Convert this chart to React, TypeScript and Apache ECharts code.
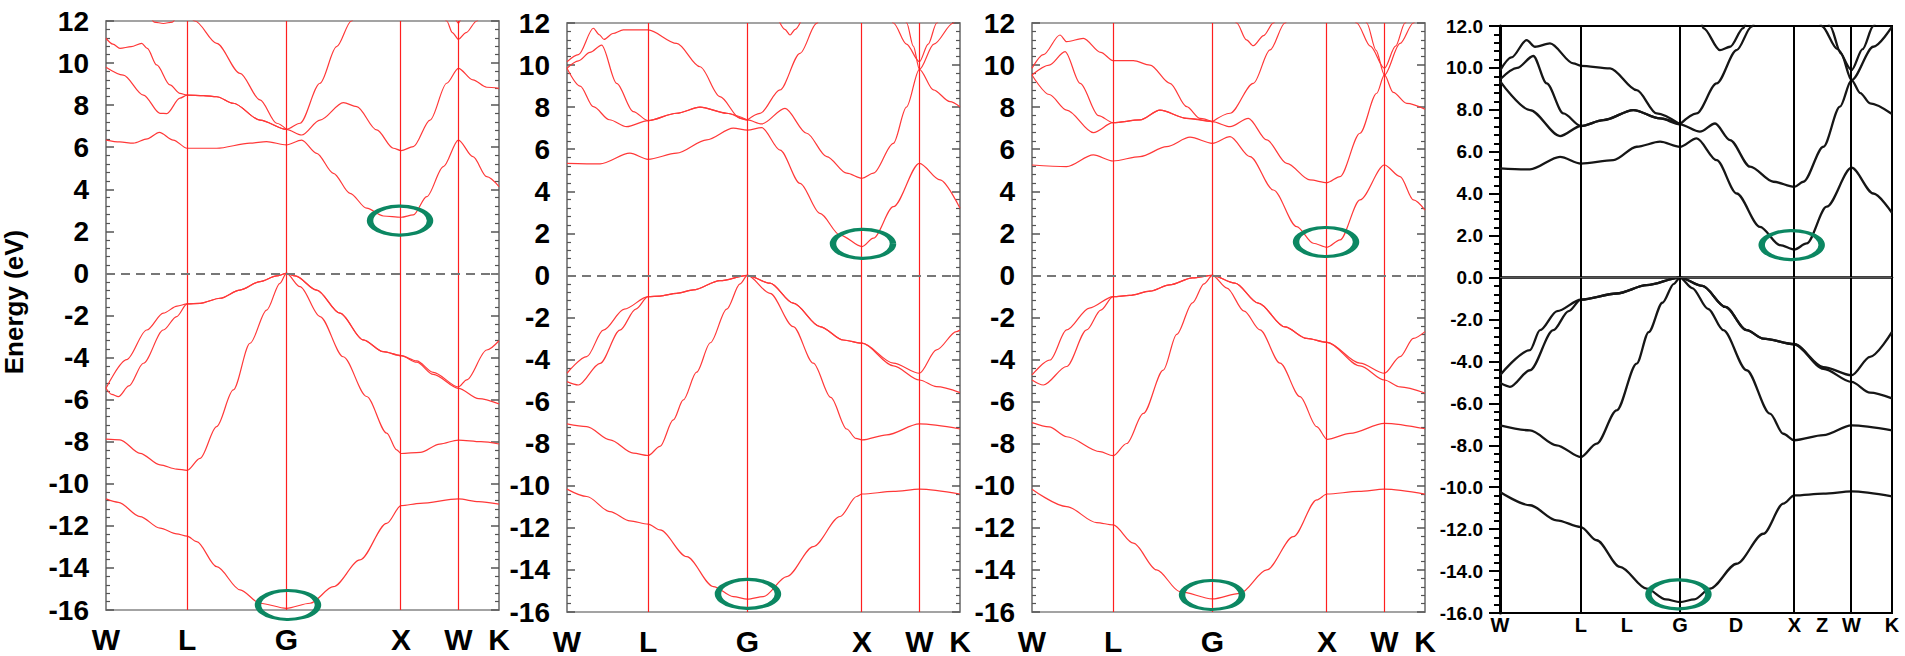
import React, { useEffect, useRef } from 'react';
import * as echarts from 'echarts';

type Pt = [number, number];

// ---------- k-path (path length units) ----------
const kSym = [0, 0.707, 1.573, 2.573, 3.073, 3.427];
const kSymLabels = ['W', 'L', 'G', 'X', 'W', 'K'];
const refLabelPos = [0, 0.707, 1.11, 1.573, 2.063, 2.573, 2.815, 3.073, 3.427];
const refLabels = ['W', 'L', 'L', 'G', 'D', 'X', 'Z', 'W', 'K'];
const eMin = -16;
const eMax = 12;
const eStep = 2;

// ---------- Panel 1 ----------
const p1Band1: Pt[] = [[0,-10.72],[0.108,-10.88],[0.297,-11.56],[0.471,-12.11],[0.616,-12.38],[0.707,-12.49],[0.791,-12.75],[0.965,-13.94],[1.169,-15.04],[1.343,-15.68],[1.573,-15.92],[1.779,-15.68],[1.983,-14.89],[2.215,-13.62],[2.448,-11.88],[2.573,-11.04],[2.74,-10.93],[3.073,-10.72],[3.25,-10.85],[3.427,-10.97]];
const p1Band2: Pt[] = [[0,-7.88],[0.122,-7.91],[0.297,-8.55],[0.471,-9.1],[0.616,-9.3],[0.707,-9.36],[0.82,-8.79],[0.965,-7.28],[1.11,-5.54],[1.256,-3.32],[1.401,-1.74],[1.517,-0.47],[1.573,0],[1.692,-0.63],[1.866,-2.05],[2.069,-3.96],[2.273,-5.85],[2.448,-7.59],[2.535,-8.39],[2.573,-8.56],[2.74,-8.51],[2.91,-8.11],[3.073,-7.92],[3.27,-8.0],[3.427,-8.11]];
const p1Band3: Pt[] = [[0,-5.46],[0.05,-5.75],[0.108,-5.86],[0.2,-5.35],[0.326,-4.27],[0.5,-2.69],[0.616,-2.05],[0.707,-1.45],[0.82,-1.42],[0.994,-1.18],[1.168,-0.79],[1.343,-0.39],[1.488,-0.12],[1.573,0],[1.65,-0.12],[1.837,-0.79],[2.04,-1.89],[2.243,-3.16],[2.417,-3.72],[2.573,-3.91],[2.709,-4.22],[2.854,-4.8],[3.073,-5.46],[3.25,-5.95],[3.427,-6.2]];
const p1Band4: Pt[] = [[0,-5.46],[0.18,-4.1],[0.355,-2.69],[0.5,-1.89],[0.62,-1.55],[0.707,-1.45],[0.82,-1.42],[0.994,-1.18],[1.168,-0.79],[1.343,-0.39],[1.488,-0.12],[1.573,0],[1.65,-0.12],[1.837,-0.79],[2.04,-1.89],[2.243,-3.16],[2.417,-3.72],[2.573,-3.91],[2.709,-4.16],[2.854,-4.7],[3.073,-5.4],[3.145,-5.06],[3.32,-3.64],[3.427,-3.2]];
const p1Band5: Pt[] = [[0,6.34],[0.12,6.25],[0.238,6.19],[0.36,6.4],[0.465,6.71],[0.587,6.34],[0.707,5.95],[0.965,5.95],[1.256,6.19],[1.4,6.27],[1.573,6.11],[1.706,6.34],[1.837,5.71],[1.983,4.76],[2.128,3.81],[2.273,3.1],[2.419,2.73],[2.573,2.67],[2.68,2.78],[2.797,3.65],[2.942,5.08],[3.073,6.34],[3.2,5.55],[3.32,4.6],[3.427,4.13]];
const p1Band6: Pt[] = [[0,11.18],[0.06,10.9],[0.122,10.7],[0.22,10.78],[0.311,10.94],[0.36,10.7],[0.442,9.91],[0.558,8.96],[0.645,8.56],[0.707,8.48],[0.85,8.45],[0.965,8.4],[1.11,8.09],[1.343,7.29],[1.573,6.85],[1.706,6.58],[1.866,7.29],[2.07,8.12],[2.186,7.93],[2.36,6.82],[2.506,5.95],[2.573,5.84],[2.68,6.03],[2.826,7.29],[2.971,9.04],[3.073,9.75],[3.2,9.2],[3.32,8.85],[3.427,8.8]];
const p1Band7: Pt[] = [[0,9.8],[0.151,9.43],[0.326,8.48],[0.471,7.61],[0.53,7.6],[0.645,8.33],[0.707,8.48],[0.85,8.45],[0.965,8.4],[1.11,8.09],[1.343,7.29],[1.573,6.85],[1.692,7.14],[1.866,9.04],[2.011,10.78],[2.14,12.0],[2.2,12.8]];
const p1Band8: Pt[] = [[0.72,12.3],[0.776,12.0],[0.965,10.94],[1.169,9.51],[1.343,8.25],[1.488,7.14],[1.573,6.85]];
const p1Band9: Pt[] = [[0.39,12.2],[0.42,11.95],[0.5,11.88],[0.58,11.95],[0.61,12.2]];
const p1Band10: Pt[] = [[2.94,12.3],[2.971,12.0],[3.02,11.45],[3.073,11.13],[3.14,11.45],[3.233,12.0],[3.26,12.3]];
const p1Band11: Pt[] = [[3.04,12.2],[3.073,11.9],[3.1,12.2]];
const p1Marks: Pt[] = [[2.564, 2.51], [1.587, -15.76]];

// ---------- Panel 2 ----------
const p2Band1: Pt[] = [[0,-10.16],[0.172,-10.51],[0.375,-11.23],[0.549,-11.67],[0.707,-11.82],[0.811,-12.1],[1.044,-13.37],[1.276,-14.79],[1.45,-15.27],[1.573,-15.39],[1.712,-15.27],[1.916,-14.32],[2.148,-12.89],[2.381,-11.46],[2.526,-10.51],[2.573,-10.39],[2.846,-10.27],[3.073,-10.16],[3.427,-10.39]];
const p2Band2: Pt[] = [[0,-7.06],[0.172,-7.19],[0.375,-7.82],[0.578,-8.45],[0.707,-8.56],[0.811,-8.13],[0.927,-6.87],[1.014,-5.92],[1.13,-4.6],[1.25,-3.2],[1.393,-1.6],[1.509,-0.4],[1.573,0],[1.77,-0.85],[1.973,-2.43],[2.148,-4.17],[2.3,-5.8],[2.439,-7.3],[2.52,-7.75],[2.573,-7.82],[2.788,-7.58],[3.073,-7.06],[3.427,-7.3]];
const p2Band3: Pt[] = [[0,-5.05],[0.099,-5.21],[0.288,-4.18],[0.462,-2.6],[0.6,-1.6],[0.707,-1.01],[0.811,-0.98],[0.956,-0.85],[1.102,-0.69],[1.334,-0.25],[1.573,0],[1.77,-0.37],[1.973,-1.32],[2.206,-2.43],[2.409,-3.07],[2.573,-3.22],[2.846,-4.3],[3.073,-4.97],[3.222,-5.29],[3.427,-5.57]];
const p2Band4: Pt[] = [[0,-4.65],[0.172,-3.86],[0.317,-2.6],[0.5,-1.6],[0.707,-1.01],[0.811,-0.98],[0.956,-0.85],[1.102,-0.69],[1.334,-0.25],[1.573,0],[1.77,-0.37],[1.973,-1.32],[2.206,-2.43],[2.409,-3.07],[2.573,-3.22],[2.846,-4.17],[3.073,-4.65],[3.222,-3.54],[3.396,-2.67],[3.427,-2.6]];
const p2Band5: Pt[] = [[0,5.33],[0.288,5.3],[0.549,5.81],[0.707,5.52],[0.956,5.81],[1.218,6.44],[1.45,7.0],[1.573,6.91],[1.698,7.03],[1.858,5.96],[2.032,4.38],[2.206,2.95],[2.381,1.92],[2.573,1.37],[2.672,1.77],[2.846,3.27],[3.073,5.33],[3.253,4.54],[3.427,3.19]];
const p2Band6: Pt[] = [[0,10.16],[0.1,10.5],[0.23,11.75],[0.28,11.45],[0.323,11.22],[0.4,11.5],[0.491,11.67],[0.707,11.67],[0.956,11.03],[1.16,9.92],[1.334,8.5],[1.509,7.47],[1.573,7.39]];
const p2Band7: Pt[] = [[0,9.85],[0.1,10.2],[0.2,10.6],[0.302,10.95],[0.433,9.13],[0.578,7.79],[0.707,7.36],[0.956,7.71],[1.16,8.0],[1.392,7.71],[1.573,7.39],[1.698,7.2],[1.901,7.94],[2.09,6.76],[2.265,5.65],[2.439,4.86],[2.573,4.62],[2.672,4.86],[2.846,6.28],[2.96,8.0],[3.073,9.8],[3.2,11.0],[3.369,12.0],[3.4,12.4]];
const p2Band8: Pt[] = [[0,9.85],[0.115,9.0],[0.23,8.02],[0.37,7.4],[0.52,7.07],[0.707,7.36],[0.956,7.71],[1.16,8.0],[1.392,7.71],[1.573,7.39]];
const p2Band9: Pt[] = [[1.573,7.39],[1.683,7.7],[1.857,8.82],[2.032,10.56],[2.177,11.98],[2.22,12.5]];
const p2Band10: Pt[] = [[1.84,12.2],[1.9,11.7],[1.945,11.43],[1.99,11.7],[2.05,12.2]];
const p2Band11: Pt[] = [[2.82,12.3],[2.846,12.0],[2.96,11.0],[3.073,10.16],[3.15,11.0],[3.224,12.0],[3.25,12.3]];
const p2Band12: Pt[] = [[2.94,12.4],[2.962,12.0],[3.02,10.9],[3.073,9.8],[3.195,8.82],[3.34,8.26],[3.427,8.02]];
const p2Marks: Pt[] = [[2.581, 1.5], [1.578, -15.14]];

// ---------- Panel 3 ----------
const p3Band1: Pt[] = [[0,-10.16],[0.302,-10.99],[0.564,-11.75],[0.707,-11.86],[0.884,-12.73],[1.087,-14.0],[1.29,-15.03],[1.573,-15.38],[1.814,-15.11],[2.047,-14.0],[2.279,-12.42],[2.483,-10.67],[2.573,-10.39],[2.85,-10.27],[3.073,-10.16],[3.427,-10.4]];
const p3Band2: Pt[] = [[0,-7.0],[0.15,-7.2],[0.302,-7.67],[0.593,-8.38],[0.707,-8.57],[0.826,-7.99],[0.971,-6.56],[1.145,-4.5],[1.262,-2.8],[1.4,-1.3],[1.5,-0.4],[1.573,0],[1.7,-0.6],[1.85,-1.7],[1.988,-2.59],[2.163,-4.17],[2.337,-5.76],[2.483,-7.19],[2.573,-7.79],[2.773,-7.51],[3.073,-7.03],[3.427,-7.29]];
const p3Band3: Pt[] = [[0,-4.97],[0.099,-5.21],[0.302,-4.33],[0.477,-2.59],[0.6,-1.65],[0.707,-1.01],[0.85,-0.95],[1.029,-0.75],[1.2,-0.45],[1.4,-0.12],[1.573,0],[1.77,-0.37],[1.973,-1.32],[2.206,-2.45],[2.395,-2.99],[2.573,-3.18],[2.86,-4.3],[3.073,-4.97],[3.21,-5.3],[3.427,-5.59]];
const p3Band4: Pt[] = [[0,-4.73],[0.157,-4.02],[0.302,-2.59],[0.5,-1.55],[0.707,-1.01],[0.85,-0.95],[1.029,-0.75],[1.2,-0.45],[1.4,-0.12],[1.573,0],[1.77,-0.37],[1.973,-1.32],[2.206,-2.45],[2.395,-2.99],[2.573,-3.18],[2.86,-4.17],[3.073,-4.65],[3.21,-3.86],[3.326,-2.99],[3.427,-2.67]];
const p3Band5: Pt[] = [[0,5.25],[0.302,5.17],[0.535,5.73],[0.707,5.44],[0.942,5.65],[1.174,6.12],[1.378,6.57],[1.573,6.28],[1.727,6.6],[1.901,5.65],[2.105,4.06],[2.308,2.32],[2.453,1.53],[2.573,1.34],[2.686,1.69],[2.86,3.59],[3.073,5.25],[3.21,4.7],[3.326,3.59],[3.427,3.11]];
const p3Band6: Pt[] = [[0,9.85],[0.1,10.5],[0.244,11.43],[0.302,11.11],[0.448,11.27],[0.6,10.6],[0.707,10.21],[0.884,10.21],[1.029,10.0],[1.203,9.13],[1.349,8.02],[1.465,7.47],[1.573,7.31]];
const p3Band7: Pt[] = [[0,9.53],[0.15,10.0],[0.288,10.64],[0.42,9.13],[0.58,7.6],[0.707,7.26],[0.942,7.39],[1.116,7.86],[1.349,7.47],[1.573,7.31],[1.727,7.07],[1.887,7.47],[2.047,6.44],[2.221,5.33],[2.424,4.54],[2.573,4.41],[2.686,4.7],[2.86,6.76],[3.006,8.66],[3.073,9.53],[3.21,11.03],[3.326,12.0],[3.36,12.4]];
const p3Band8: Pt[] = [[0,9.53],[0.15,8.6],[0.302,7.86],[0.535,6.79],[0.707,7.26],[0.942,7.39],[1.116,7.86],[1.349,7.47],[1.573,7.31]];
const p3Band9: Pt[] = [[1.573,7.31],[1.727,7.71],[1.93,9.13],[2.076,10.72],[2.206,12.0],[2.25,12.5]];
const p3Band10: Pt[] = [[1.75,12.4],[1.785,12.0],[1.87,11.2],[1.93,10.92],[2.02,11.4],[2.105,12.0],[2.14,12.4]];
const p3Band11: Pt[] = [[2.8,12.3],[2.831,12.0],[2.95,10.9],[3.073,9.85],[3.17,10.9],[3.253,12.0],[3.28,12.3]];
const p3Band12: Pt[] = [[2.9,12.3],[2.919,12.0],[3.0,10.7],[3.073,9.53],[3.15,8.7],[3.268,8.18],[3.427,7.9]];
const p3Marks: Pt[] = [[2.564, 1.59], [1.57, -15.19]];

// ---------- Panel 4 (reference calculation) ----------
const p4Band1: Pt[] = [[0,-10.23],[0.262,-10.86],[0.495,-11.58],[0.707,-11.9],[0.845,-12.53],[1.049,-13.8],[1.282,-14.84],[1.45,-15.35],[1.573,-15.48],[1.7,-15.35],[1.836,-14.84],[2.069,-13.65],[2.302,-12.22],[2.477,-10.78],[2.573,-10.39],[2.827,-10.31],[3.073,-10.2],[3.427,-10.44]];
const p4Band2: Pt[] = [[0,-7.05],[0.262,-7.29],[0.495,-8.0],[0.707,-8.56],[0.845,-7.92],[1.02,-6.33],[1.195,-4.1],[1.3,-2.6],[1.42,-1.2],[1.52,-0.3],[1.573,0],[1.68,-0.5],[1.82,-1.5],[1.952,-2.51],[2.156,-4.42],[2.36,-6.49],[2.477,-7.45],[2.573,-7.76],[2.827,-7.52],[3.073,-7.05],[3.427,-7.29]];
const p4Band3: Pt[] = [[0,-5.02],[0.087,-5.21],[0.262,-4.42],[0.466,-2.51],[0.6,-1.6],[0.707,-1.05],[1.02,-0.76],[1.282,-0.36],[1.573,0],[1.77,-0.4],[1.97,-1.4],[2.156,-2.51],[2.302,-2.91],[2.573,-3.18],[2.827,-4.35],[3.073,-4.98],[3.235,-5.49],[3.427,-5.76]];
const p4Band4: Pt[] = [[0,-4.66],[0.262,-3.46],[0.35,-2.51],[0.5,-1.6],[0.707,-1.05],[1.02,-0.76],[1.282,-0.36],[1.573,0],[1.77,-0.4],[1.97,-1.4],[2.156,-2.51],[2.302,-2.91],[2.573,-3.18],[2.827,-4.27],[3.073,-4.66],[3.235,-3.78],[3.427,-2.59]];
const p4Band5: Pt[] = [[0,5.21],[0.262,5.16],[0.525,5.76],[0.707,5.44],[0.991,5.6],[1.195,6.24],[1.399,6.48],[1.573,6.24],[1.719,6.64],[1.894,5.6],[2.069,4.01],[2.273,2.42],[2.448,1.55],[2.573,1.34],[2.681,1.63],[2.856,3.38],[3.073,5.24],[3.264,4.01],[3.427,3.09]];
const p4Band6: Pt[] = [[0,9.87],[0.1,10.5],[0.233,11.33],[0.306,11.01],[0.437,11.17],[0.641,10.22],[0.707,10.1],[0.962,9.98],[1.195,8.94],[1.37,7.83],[1.573,7.31]];
const p4Band7: Pt[] = [[0,9.45],[0.15,10.0],[0.291,10.57],[0.408,9.26],[0.554,7.83],[0.707,7.23],[0.903,7.51],[1.166,7.99],[1.399,7.59],[1.573,7.31],[1.748,6.96],[1.88,7.35],[2.011,6.56],[2.186,5.29],[2.39,4.57],[2.573,4.33],[2.652,4.57],[2.827,6.24],[2.972,8.15],[3.073,9.42],[3.264,11.01],[3.427,11.97]];
const p4Band8: Pt[] = [[0,9.37],[0.262,7.99],[0.525,6.75],[0.707,7.23],[0.903,7.51],[1.166,7.99],[1.399,7.59],[1.573,7.31]];
const p4Band9: Pt[] = [[1.573,7.31],[1.719,7.83],[1.894,9.26],[2.069,10.85],[2.2,11.97],[2.24,12.4]];
const p4Band10: Pt[] = [[1.76,12.2],[1.778,11.9],[1.923,10.85],[2.011,11.01],[2.127,11.9],[2.15,12.2]];
const p4Band11: Pt[] = [[2.79,12.3],[2.812,12.0],[2.95,10.9],[3.073,9.9],[3.17,10.9],[3.264,12.0],[3.29,12.3]];
const p4Band12: Pt[] = [[2.86,12.3],[2.885,12.0],[2.98,10.7],[3.073,9.42],[3.15,8.8],[3.235,8.31],[3.427,7.8]];
const p4Marks: Pt[] = [[2.55, 1.55], [1.56, -15.11]];

const p1Bands = [p1Band1, p1Band2, p1Band3, p1Band4, p1Band5, p1Band6, p1Band7, p1Band8, p1Band9, p1Band10, p1Band11];
const p2Bands = [p2Band1, p2Band2, p2Band3, p2Band4, p2Band5, p2Band6, p2Band7, p2Band8, p2Band9, p2Band10, p2Band11, p2Band12];
const p3Bands = [p3Band1, p3Band2, p3Band3, p3Band4, p3Band5, p3Band6, p3Band7, p3Band8, p3Band9, p3Band10, p3Band11, p3Band12];
const p4Bands = [p4Band1, p4Band2, p4Band3, p4Band4, p4Band5, p4Band6, p4Band7, p4Band8, p4Band9, p4Band10, p4Band11, p4Band12];

const FONT = 'Liberation Sans, Arial, sans-serif';
const GREEN = '#0c8762';

function nearestLabel(v: number, pos: number[], labels: string[]) {
  let best = 0;
  for (let i = 1; i < pos.length; i++) if (Math.abs(pos[i] - v) < Math.abs(pos[best] - v)) best = i;
  return labels[best];
}

function buildOption() {
  const grids: any[] = [];
  const xAxes: any[] = [];
  const yAxes: any[] = [];
  const series: any[] = [];

  const redPanels = [
    { bands: p1Bands, marks: p1Marks, rect: { left: 106, top: 21, width: 393, height: 589 } },
    { bands: p2Bands, marks: p2Marks, rect: { left: 567, top: 23, width: 393, height: 589 } },
    { bands: p3Bands, marks: p3Marks, rect: { left: 1032, top: 23, width: 393, height: 589 } },
  ];

  redPanels.forEach((p, i) => {
    grids.push({ ...p.rect, show: true, borderColor: '#858585', borderWidth: 1.5, backgroundColor: 'transparent' });
    xAxes.push({
      gridIndex: i, type: 'value', min: kSym[0], max: kSym[kSym.length - 1],
      axisLine: { show: false }, axisTick: { show: false }, splitLine: { show: false },
      axisLabel: {
        customValues: kSym,
        formatter: (v: number) => nearestLabel(v, kSym, kSymLabels),
        fontSize: 30, fontWeight: 'bold', color: '#000', fontFamily: FONT, margin: 14,
      },
    });
    const yBase = {
      gridIndex: i, type: 'value', min: eMin, max: eMax, interval: eStep,
      splitLine: { show: false },
      axisLine: { show: true, lineStyle: { color: '#858585', width: 1.5 } },
      axisTick: { show: true, inside: true, length: 8, lineStyle: { color: '#555', width: 1.5 } },
      minorTick: { show: true, splitNumber: 5, length: 4, lineStyle: { color: '#555', width: 1.2 } },
    };
    yAxes.push({ ...yBase, position: 'left', axisLabel: { fontSize: 28, fontWeight: 'bold', color: '#000', fontFamily: FONT, margin: 17 } });
    yAxes.push({ ...yBase, position: 'right', axisLabel: { show: false } });
    p.bands.forEach((b, j) => {
      series.push({
        type: 'line', xAxisIndex: i, yAxisIndex: 2 * i, data: b, symbol: 'none', showSymbol: false,
        smooth: 0.3, smoothMonotone: 'x', clip: true, silent: true, z: 3,
        lineStyle: { color: '#ff3838', width: 1.2 },
        markLine: j === 0 ? {
          silent: true, symbol: ['none', 'none'], label: { show: false }, animation: false,
          lineStyle: { color: '#ff1f1f', width: 1.2, type: 'solid' },
          data: [
            ...kSym.slice(1, kSym.length - 1).map((k) => ({ xAxis: k })),
            { yAxis: 0, lineStyle: { color: '#777', width: 2, type: [9, 6] } },
          ],
        } : undefined,
      });
    });
    series.push({
      type: 'scatter', xAxisIndex: i, yAxisIndex: 2 * i, data: p.marks, symbol: 'circle',
      symbolSize: [60, 29], clip: false, silent: true, z: 10,
      itemStyle: { color: 'rgba(0,0,0,0)', borderColor: GREEN, borderWidth: 4.5, opacity: 1 },
    });
  });

  // Panel 4
  const gi = 3;
  grids.push({ left: 1500, top: 26, width: 392, height: 587, show: true, borderColor: '#000', borderWidth: 2 });
  xAxes.push({
    gridIndex: gi, type: 'value', min: kSym[0], max: kSym[kSym.length - 1],
    axisLine: { show: true, lineStyle: { color: '#000', width: 2.5 } }, axisTick: { show: false }, splitLine: { show: false },
    axisLabel: {
      customValues: refLabelPos,
      formatter: (v: number) => nearestLabel(v, refLabelPos, refLabels),
      fontSize: 20, fontWeight: 'bold', color: '#000', fontFamily: FONT, margin: 2,
    },
  });
  yAxes.push({
    gridIndex: gi, type: 'value', min: eMin, max: eMax, interval: eStep, position: 'left',
    splitLine: { show: false },
    axisLine: { show: true, lineStyle: { color: '#000', width: 3 } },
    axisTick: { show: true, inside: false, length: 11, lineStyle: { color: '#000', width: 2 } },
    minorTick: { show: true, splitNumber: 5, length: 6, lineStyle: { color: '#000', width: 2 } },
    axisLabel: { fontSize: 19, fontWeight: 'bold', color: '#000', fontFamily: FONT, margin: 17, formatter: (v: number) => v.toFixed(1) },
  });
  const y4 = yAxes.length - 1;
  p4Bands.forEach((b, j) => {
    series.push({
      type: 'line', xAxisIndex: gi, yAxisIndex: y4, data: b, symbol: 'none', showSymbol: false,
      smooth: 0.3, smoothMonotone: 'x', clip: true, silent: true, z: 3,
      lineStyle: { color: '#161616', width: 2.3 },
      markLine: j === 0 ? {
        silent: true, symbol: ['none', 'none'], label: { show: false }, animation: false,
        lineStyle: { color: '#000', width: 2, type: 'solid' },
        data: [
          ...kSym.slice(1, kSym.length - 1).map((k) => ({ xAxis: k })),
          { yAxis: 0, lineStyle: { color: '#555', width: 1, type: 'solid' } },
        ],
      } : undefined,
    });
  });
  series.push({
    type: 'scatter', xAxisIndex: gi, yAxisIndex: y4, data: p4Marks, symbol: 'circle',
    symbolSize: [60, 29], clip: false, silent: true, z: 10,
    itemStyle: { color: 'rgba(0,0,0,0)', borderColor: GREEN, borderWidth: 4.5, opacity: 1 },
  });

  return {
    animation: false,
    backgroundColor: '#fff',
    grid: grids,
    xAxis: xAxes,
    yAxis: yAxes,
    series,
    graphic: [
      {
        type: 'text', x: 14, y: 302, rotation: Math.PI / 2, silent: true,
        style: {
          text: 'Energy (eV)', fill: '#000', fontSize: 26, fontWeight: 'bold', fontFamily: FONT,
          textAlign: 'center', textVerticalAlign: 'middle',
        },
      },
    ],
  };
}

export default function App() {
  const ref = useRef<HTMLDivElement>(null);
  useEffect(() => {
    if (!ref.current) return;
    const chart = echarts.init(ref.current, undefined, { renderer: 'svg' });
    chart.setOption(buildOption() as any);
    return () => chart.dispose();
  }, []);
  return <div ref={ref} style={{ position: 'fixed', left: 0, top: 0, width: 1905, height: 656 }} />;
}
